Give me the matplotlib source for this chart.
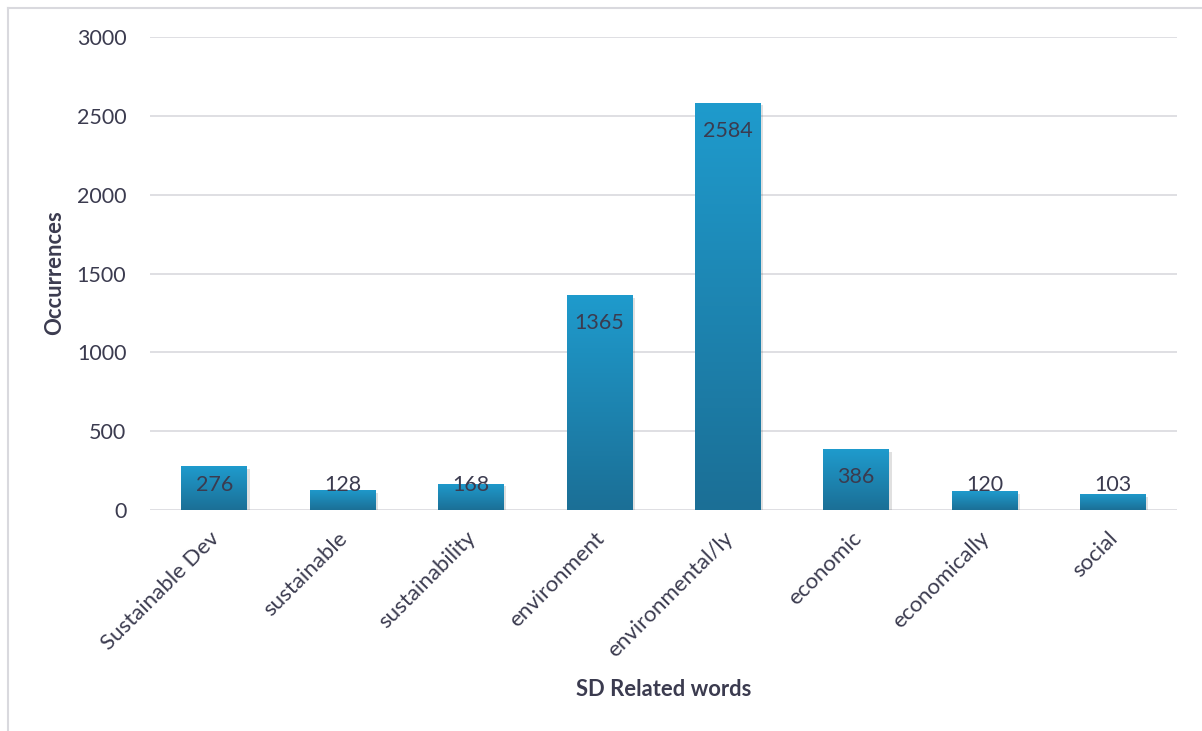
import numpy as np
import matplotlib.pyplot as plt
from matplotlib.colors import LinearSegmentedColormap
from matplotlib.lines import Line2D
import matplotlib.patheffects as pe
import matplotlib.transforms as mtransforms

plt.rcParams['font.family'] = ['Lato', 'DejaVu Sans']

words = ['Sustainable Dev', 'sustainable', 'sustainability', 'environment',
         'environmental/ly', 'economic', 'economically', 'social']
counts = [276, 128, 168, 1365, 2584, 386, 120, 103]
yticks = [0, 500, 1000, 1500, 2000, 2500, 3000]

txt = '#3b3b4f'
grid_c = '#dcdce0'
cmap = LinearSegmentedColormap.from_list('barg', ['#1b6f96', '#1f9bcd'])

fig = plt.figure(figsize=(12.02, 7.31), dpi=100)
ax = fig.add_axes([150/1202, 1-510/731, (1177-150)/1202, (510-37)/731])

x = np.arange(len(words))
bars = ax.bar(x, counts, width=0.51, color='#1f8fbf', zorder=3,
              path_effects=[pe.SimplePatchShadow(offset=(2, -2), alpha=0.18, shadow_rgbFace='#555555'),
                            pe.Normal()])

# gradient fill top light -> bottom dark
grad = np.linspace(0, 1, 256).reshape(-1, 1)
for b in bars:
    x0, w, h = b.get_x(), b.get_width(), b.get_height()
    im = ax.imshow(grad, extent=[x0, x0 + w, 0, h], origin='lower', aspect='auto',
                   cmap=cmap, zorder=4)
    im.set_clip_path(b)

for xi, v in zip(x, counts):
    ax.text(xi, max(v - 178, 158), str(v), ha='center', va='center',
            fontsize=15.5, color=txt, zorder=5)

ax.set_xlim(-0.5, len(words) - 0.5)
ax.set_ylim(0, 3000)
ax.set_yticks(yticks)
ax.set_yticklabels([str(t) for t in yticks], fontsize=15.5, color=txt)
ax.yaxis.grid(True, color=grid_c, linewidth=1.3, zorder=0)
ax.set_axisbelow(True)
ax.tick_params(axis='y', length=0, pad=17)
ax.tick_params(axis='x', length=0, pad=18)
ax.set_xticks(x)
ax.set_xticklabels(words, rotation=45, ha='right', va='center', rotation_mode='anchor',
                   fontsize=16, color=txt)
shift = mtransforms.ScaledTranslation(2/100, 0, fig.dpi_scale_trans)
for lab in ax.get_xticklabels():
    lab.set_transform(lab.get_transform() + shift)
for s in ax.spines.values():
    s.set_visible(False)

fig.text(55/1202, 1-273/731, 'Occurrences', rotation=90, ha='center', va='center',
         fontsize=15.8, fontweight='bold', color=txt)
fig.text(664/1202, 1-689/731, 'SD Related words', ha='center', va='center',
         fontsize=15.8, fontweight='bold', color=txt)

# outer chart frame (top and left edges visible)
fig.add_artist(Line2D([8/1202, 1], [1-7.5/731, 1-7.5/731], color='#d9d9de', linewidth=1.5))
fig.add_artist(Line2D([8/1202, 8/1202], [0, 1-7.5/731], color='#d9d9de', linewidth=1.5))

fig.savefig('out.png', dpi=100)
